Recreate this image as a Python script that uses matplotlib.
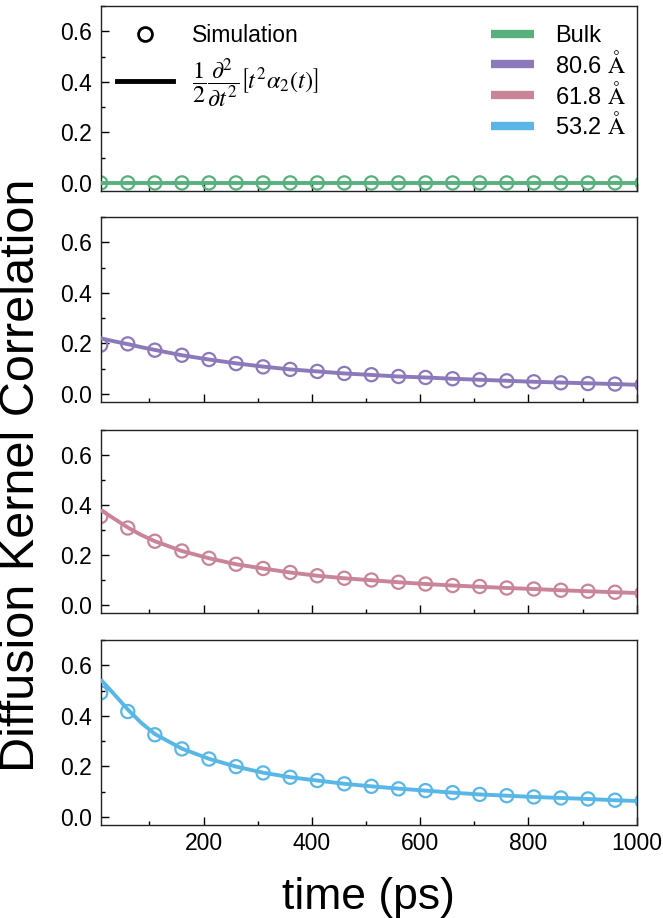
import matplotlib
matplotlib.use("Agg")
import matplotlib.pyplot as plt
from matplotlib.lines import Line2D
from matplotlib.ticker import MultipleLocator

plt.rcParams['font.family'] = ['Liberation Sans', 'DejaVu Sans']
plt.rcParams['mathtext.fontset'] = 'stix'

# ---------------- data ----------------
sim_t = [10, 60, 110, 160, 210, 260, 310, 360, 410, 460, 510, 560, 610, 660,
         710, 760, 810, 860, 910, 960, 1010]
line_t = [10, 35, 60, 85, 110, 160, 210, 260, 310, 360, 410, 460, 510, 560,
          610, 660, 710, 760, 810, 860, 910, 960, 1000]

labels = ["Bulk", r"80.6 $\mathrm{\AA}$", r"61.8 $\mathrm{\AA}$", r"53.2 $\mathrm{\AA}$"]
colors = ["#58B07D", "#8C79BA", "#C98498", "#58B7E6"]

sim_bulk = [0.0] * 21
line_bulk = [0.0] * 23

sim_806 = [0.193, 0.198, 0.173, 0.153, 0.136, 0.120, 0.107, 0.097, 0.089, 0.081,
           0.076, 0.069, 0.065, 0.060, 0.056, 0.052, 0.048, 0.044, 0.041, 0.039, 0.036]
line_806 = [0.220, 0.208, 0.197, 0.185, 0.174, 0.153, 0.136, 0.121, 0.108, 0.097,
            0.089, 0.081, 0.075, 0.069, 0.065, 0.060, 0.056, 0.052, 0.048, 0.045,
            0.042, 0.039, 0.036]

sim_618 = [0.354, 0.308, 0.255, 0.216, 0.187, 0.163, 0.146, 0.130, 0.117, 0.107,
           0.100, 0.091, 0.084, 0.078, 0.074, 0.068, 0.064, 0.059, 0.055, 0.051, 0.047]
line_618 = [0.380, 0.345, 0.310, 0.280, 0.255, 0.216, 0.187, 0.163, 0.146, 0.130,
            0.117, 0.107, 0.099, 0.091, 0.084, 0.078, 0.073, 0.068, 0.064, 0.059,
            0.055, 0.051, 0.048]

sim_532 = [0.491, 0.417, 0.325, 0.269, 0.229, 0.199, 0.174, 0.157, 0.144, 0.131,
           0.121, 0.111, 0.104, 0.096, 0.089, 0.084, 0.079, 0.075, 0.071, 0.066, 0.063]
line_532 = [0.544, 0.485, 0.425, 0.372, 0.328, 0.270, 0.230, 0.199, 0.175, 0.157,
            0.144, 0.131, 0.121, 0.112, 0.104, 0.096, 0.089, 0.084, 0.079, 0.075,
            0.071, 0.066, 0.063]

sims = [sim_bulk, sim_806, sim_618, sim_532]
lines = [line_bulk, line_806, line_618, line_532]

xticks = [200, 400, 600, 800, 1000]
yticks = [0.0, 0.2, 0.4, 0.6]

# ---------------- figure ----------------
W, H = 663, 918
fig = plt.figure(figsize=(W / 100, H / 100), dpi=100)

left = 100.7 / W
width = (636.7 - 100.7) / W
panels_px = [(6, 191), (217, 402), (430, 613), (640, 825)]

axes = []
for i, (top, bot) in enumerate(panels_px):
    ax = fig.add_axes([left, 1 - bot / H, width, (bot - top) / H])
    axes.append(ax)
    ax.scatter(sim_t, sims[i], s=90, facecolors='none', edgecolors=colors[i],
               linewidths=1.6, zorder=2)
    ax.plot(line_t, lines[i], color=colors[i], linewidth=2.8, zorder=3,
            solid_capstyle='butt')
    ax.set_xlim(10, 1000)
    ax.set_ylim(-0.032, 0.7)
    ax.set_xticks(xticks)
    ax.xaxis.set_minor_locator(MultipleLocator(100))
    ax.set_yticks(yticks)
    ax.yaxis.set_minor_locator(MultipleLocator(0.1))
    ax.set_yticklabels(["0.0", "0.2", "0.4", "0.6"])
    ax.tick_params(which='both', direction='in', top=False, right=False,
                   labelsize=16.5, width=1.0)
    ax.tick_params(which='major', length=5.5)
    ax.tick_params(which='minor', length=3)
    ax.tick_params(axis='y', pad=6.5)
    ax.tick_params(axis='x', pad=5)
    for s in ax.spines.values():
        s.set_linewidth(1.0)
        s.set_color('#222222')
    if i < 3:
        ax.tick_params(axis='x', labelbottom=False)

axes[3].set_xlabel("time (ps)", fontsize=32, labelpad=16)
fig.text(22 / W, 1 - 475 / H, "Diffusion Kernel Correlation", rotation=90,
         ha='center', va='center', fontsize=35)

# legends
ax0 = axes[0]
h1 = [Line2D([], [], linestyle='none', marker='o', markersize=10,
             markerfacecolor='none', markeredgecolor='black', markeredgewidth=2),
      Line2D([], [], color='black', linewidth=3.5)]
l1 = ax0.legend(h1, ["Simulation",
                     r"$\dfrac{1}{2}\dfrac{\partial^2}{\partial t^2}\left[t^2\alpha_2(t)\right]$"],
                loc='upper left', bbox_to_anchor=(0.03, 0.90), frameon=False,
                fontsize=16.5, handlelength=2.45, handletextpad=0.85,
                borderpad=0, borderaxespad=0, labelspacing=0.4)
l1.get_texts()[1].set_fontsize(17.5)
ax0.add_artist(l1)

h2 = [Line2D([], [], color=c, linewidth=6, solid_capstyle='butt') for c in colors]
ax0.legend(h2, labels, loc='upper right', bbox_to_anchor=(1.0, 0.955),
           frameon=False, fontsize=17, handlelength=1.82, handletextpad=0.89,
           borderpad=0, borderaxespad=0.45, labelspacing=0.16)

fig.savefig("out.png", dpi=100)
